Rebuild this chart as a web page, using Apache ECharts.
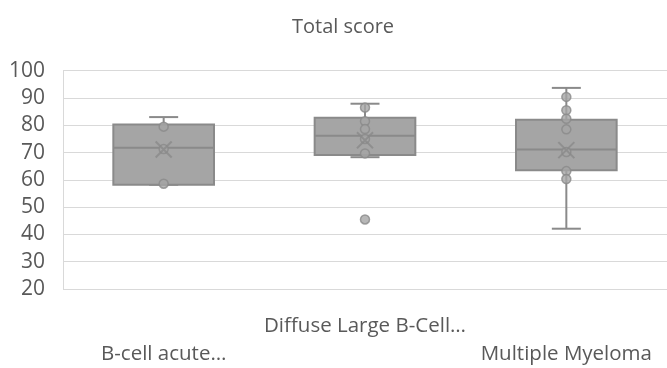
<!DOCTYPE html>
<html><head><meta charset="utf-8">
<script src="https://cdn.jsdelivr.net/npm/echarts@6/dist/echarts.min.js"></script>
<style>html,body{margin:0;padding:0;background:#fff}#c{width:667px;height:368px}</style>
</head><body><div id="c"></div>
<script>
const categories = ['B-cell acute…', 'Diffuse Large B-Cell…', 'Multiple Myeloma'];
const whiskerLow = [58.2, 68.3, 42.1];
const q1 = [58.2, 69.1, 63.5];
const median = [71.8, 76.2, 71.1];
const q3 = [80.3, 82.8, 82.0];
const whiskerHigh = [83.0, 87.9, 93.7];
const means = [71.1, 74.5, 70.9];
const points = [
  [79.5, 71.3, 58.6],
  [86.5, 81.5, 78.6, 75.0, 69.7, 45.5],
  [90.4, 85.5, 82.4, 78.5, 70.2, 63.2, 60.3]
];
const yTicks = { min: 20, max: 100, interval: 10 };

const FONT = 'Open Sans';
const TXT = '#595959';
const EDGE = '#8a8a8a';
const FILL = '#a5a5a5';

const boxData = categories.map((c, i) => [i, whiskerLow[i], q1[i], median[i], q3[i], whiskerHigh[i]]);
const ptData = [];
points.forEach((arr, i) => arr.forEach(v => ptData.push([i, v])));
const meanData = means.map((v, i) => [i, v]);

const chart = echarts.init(document.getElementById('c'), null, { renderer: 'canvas' });
chart.setOption({
  animation: false,
  title: {
    text: 'Total score', left: 287, top: 12,
    textStyle: { fontFamily: FONT, fontSize: 20, fontWeight: 'normal', color: TXT }
  },
  grid: { left: 63, right: 0, top: 70.7, bottom: 76.5, containLabel: false },
  xAxis: {
    type: 'category', data: categories,
    axisLine: { show: false }, axisTick: { show: false },
    axisLabel: {
      interval: 0, margin: 23, lineHeight: 28,
      fontFamily: FONT, fontSize: 20.5, color: TXT,
      formatter: (v, i) => (i % 2 === 0 ? '\n' + v : v)
    }
  },
  yAxis: {
    type: 'value', min: yTicks.min, max: yTicks.max, interval: yTicks.interval,
    axisLine: { show: true, lineStyle: { color: '#d9d9d9' } },
    axisTick: { show: false },
    splitLine: { lineStyle: { color: '#d9d9d9', width: 1 } },
    axisLabel: { fontFamily: FONT, fontSize: 21, color: TXT, margin: 18 }
  },
  series: [
    {
      type: 'custom',
      data: boxData,
      encode: { x: 0, y: [1, 2, 3, 4, 5] },
      renderItem: (params, api) => {
        const i = api.value(0);
        const pLow = api.coord([i, api.value(1)]);
        const pQ1 = api.coord([i, api.value(2)]);
        const pMed = api.coord([i, api.value(3)]);
        const pQ3 = api.coord([i, api.value(4)]);
        const pHigh = api.coord([i, api.value(5)]);
        const band = api.size([1, 0])[0];
        const bw = band * 0.5;
        const cap = 29;
        const x = pMed[0];
        const ls = { stroke: EDGE, lineWidth: 2 };
        return {
          type: 'group',
          children: [
            { type: 'line', shape: { x1: x, y1: pQ1[1], x2: x, y2: pLow[1] }, style: ls },
            { type: 'line', shape: { x1: x, y1: pQ3[1], x2: x, y2: pHigh[1] }, style: ls },
            { type: 'line', shape: { x1: x - cap / 2, y1: pLow[1], x2: x + cap / 2, y2: pLow[1] }, style: ls },
            { type: 'line', shape: { x1: x - cap / 2, y1: pHigh[1], x2: x + cap / 2, y2: pHigh[1] }, style: ls },
            { type: 'rect', shape: { x: x - bw / 2, y: pQ3[1], width: bw, height: pQ1[1] - pQ3[1] }, style: { fill: FILL, stroke: EDGE, lineWidth: 2 } },
            { type: 'line', shape: { x1: x - bw / 2, y1: pMed[1], x2: x + bw / 2, y2: pMed[1] }, style: ls }
          ]
        };
      },
      z: 2
    },
    {
      type: 'scatter', data: ptData, symbol: 'circle', symbolSize: 9,
      itemStyle: { color: FILL, borderColor: EDGE, borderWidth: 1.5 }, z: 3
    },
    {
      type: 'scatter', data: meanData,
      symbol: 'path://M0,0L10,10M10,0L0,10', symbolSize: 16,
      itemStyle: { color: 'none', borderColor: EDGE, borderWidth: 2 }, z: 4
    }
  ]
});
</script></body></html>
